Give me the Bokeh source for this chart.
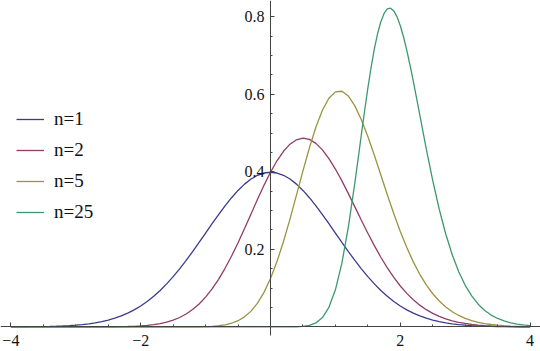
from bokeh.plotting import figure
from bokeh.models import LinearAxis, FixedTicker, Legend, LegendItem, Range1d
from bokeh.embed import file_html
from bokeh.resources import INLINE

# ---- data ----
XS = [-4.0, -3.9, -3.8, -3.7, -3.6, -3.5, -3.4, -3.3, -3.2, -3.1,
      -3.0, -2.9, -2.8, -2.7, -2.6, -2.5, -2.4, -2.3, -2.2, -2.1,
      -2.0, -1.9, -1.8, -1.7, -1.6, -1.5, -1.4, -1.3, -1.2, -1.1,
      -1.0, -0.9, -0.8, -0.7, -0.6, -0.5, -0.4, -0.3, -0.2, -0.1,
      0.0, 0.1, 0.2, 0.3, 0.4, 0.5, 0.6, 0.7, 0.8, 0.9,
      1.0, 1.1, 1.2, 1.3, 1.4, 1.5, 1.6, 1.7, 1.8, 1.9,
      2.0, 2.1, 2.2, 2.3, 2.4, 2.5, 2.6, 2.7, 2.8, 2.9,
      3.0, 3.1, 3.2, 3.3, 3.4, 3.5, 3.6, 3.7, 3.8, 3.9, 4.0]

N1 = [0.000134, 0.000199, 0.000292, 0.000425, 0.000612, 0.000873, 0.00123, 0.00172, 0.00238, 0.00327,
      0.00443, 0.00595, 0.00792, 0.01042, 0.01358, 0.01753, 0.02239, 0.02833, 0.03547, 0.04398,
      0.05399, 0.06562, 0.07895, 0.09405, 0.11092, 0.12952, 0.14973, 0.17137, 0.19419, 0.21785,
      0.24197, 0.26609, 0.28969, 0.31225, 0.33322, 0.35207, 0.36827, 0.38139, 0.39104, 0.39695,
      0.39894, 0.39695, 0.39104, 0.38139, 0.36827, 0.35207, 0.33322, 0.31225, 0.28969, 0.26609,
      0.24197, 0.21785, 0.19419, 0.17137, 0.14973, 0.12952, 0.11092, 0.09405, 0.07895, 0.06562,
      0.05399, 0.04398, 0.03547, 0.02833, 0.02239, 0.01753, 0.01358, 0.01042, 0.00792, 0.00595,
      0.00443, 0.00327, 0.00238, 0.00172, 0.00123, 0.000873, 0.000612, 0.000425, 0.000292, 0.000199, 0.000134]

N2 = [0.0, 0.0, 0.0, 0.0000001, 0.0000002, 0.0000004, 0.0000008, 0.0000017, 0.0000033, 0.0000063,
      0.000012, 0.000022, 0.000041, 0.000072, 0.000127, 0.000218, 0.000367, 0.000607, 0.000986, 0.001571,
      0.002457, 0.003769, 0.005673, 0.008384, 0.012157, 0.017307, 0.024184, 0.033177, 0.044691, 0.059111,
      0.076782, 0.097953, 0.122748, 0.151105, 0.182769, 0.217255, 0.253798, 0.291451, 0.329052, 0.365330,
      0.398942, 0.428570, 0.453028, 0.471329, 0.482742, 0.486885, 0.483669, 0.473399, 0.456632, 0.434227,
      0.407158, 0.376589, 0.343688, 0.309565, 0.275276, 0.241734, 0.209683, 0.179716, 0.152227, 0.127471,
      0.105524, 0.086389, 0.069954, 0.056053, 0.044413, 0.034842, 0.027033, 0.020768, 0.015799, 0.011878,
      0.008848, 0.006534, 0.004757, 0.003438, 0.002459, 0.001746, 0.001224, 0.000850, 0.000584, 0.000398, 0.000268]

N5 = [0.0, 0.0, 0.0, 0.0, 0.0, 0.0, 0.0, 0.0, 0.0, 0.0,
      0.0, 0.0, 0.0, 0.0, 0.0, 0.0, 0.0, 0.0, 0.0, 0.0,
      0.0, 0.0, 0.0, 0.0000019, 0.000005, 0.0000129, 0.0000318, 0.0000752, 0.000170, 0.000369,
      0.000767, 0.001527, 0.002918, 0.005351, 0.009425, 0.015953, 0.025960, 0.040645, 0.061270, 0.088999,
      0.124669, 0.168551, 0.220132, 0.277998, 0.339794, 0.402413, 0.462224, 0.515515, 0.558879, 0.589692,
      0.606203, 0.607918, 0.595433, 0.570218, 0.534557, 0.491119, 0.442665, 0.391850, 0.340999, 0.292001,
      0.246210, 0.204606, 0.167693, 0.135673, 0.108323, 0.085493, 0.066643, 0.051381, 0.039196, 0.029528,
      0.022031, 0.016287, 0.011867, 0.008583, 0.006142, 0.004361, 0.003058, 0.002124, 0.001459, 0.000995, 0.000670]

X25 = [-4.0, -2.0, 0.0, 0.1, 0.2, 0.3, 0.4, 0.5, 0.6, 0.7, 0.8, 0.9, 1.0, 1.1, 1.2, 1.3,
       1.35, 1.4, 1.45, 1.5, 1.55, 1.6, 1.65, 1.7, 1.75, 1.8, 1.85, 1.9, 1.95, 2.0,
       2.05, 2.1, 2.15, 2.2, 2.25, 2.3, 2.4, 2.5, 2.6, 2.7, 2.8, 2.9, 3.0,
       3.1, 3.2, 3.3, 3.4, 3.5, 3.6, 3.7, 3.8, 3.9, 4.0]
N25 = [0.0, 0.0, 0.0, 0.000004, 0.00002, 0.000092, 0.000364, 0.00126, 0.003795, 0.010116,
       0.023897, 0.050437, 0.095721, 0.16459, 0.25821, 0.37213,
       0.43363, 0.49606, 0.55751, 0.61596, 0.66975, 0.71699, 0.75654, 0.78720, 0.80855, 0.82016,
       0.82221, 0.81516, 0.79982, 0.77694, 0.74779, 0.71345, 0.67499, 0.63373, 0.59073, 0.54683,
       0.45939, 0.37739, 0.30349, 0.23965, 0.18619, 0.14221, 0.10722,
       0.07987, 0.05853, 0.04250, 0.03050, 0.02170, 0.01524, 0.01060, 0.00729, 0.00497, 0.00335]

SERIES = [("n=1", XS, N1), ("n=2", XS, N2), ("n=5", XS, N5), ("n=25", X25, N25)]
COLORS = ["#3c3a8e", "#8f3d68", "#9a9440", "#3d9870"]

X_TICKS = [-4, -2, 2, 4]
X_LABELS = {-4: "\u22124", -2: "\u22122", 2: "2", 4: "4"}
X_MINOR = [-3.5, -3, -2.5, -1.5, -1, -0.5, 0.5, 1, 1.5, 2.5, 3, 3.5]
Y_TICKS = [0.2, 0.4, 0.6, 0.8]
Y_LABELS = {0.2: "0.2", 0.4: "0.4", 0.6: "0.6", 0.8: "0.8"}
Y_MINOR = [0.05, 0.1, 0.15, 0.25, 0.3, 0.35, 0.45, 0.5, 0.55, 0.65, 0.7, 0.75]

# ---- figure ----
p = figure(width=540, height=351, output_backend="svg", toolbar_location=None,
           x_range=Range1d(-4.16, 4.16), y_range=Range1d(-0.0635, 0.842),
           x_axis_type=None, y_axis_type=None, min_border=0)
p.outline_line_color = None
p.background_fill_color = "white"
p.border_fill_color = "white"

AXIS_COLOR = "#444444"
LABEL_FONT = "Liberation Serif"

xaxis = LinearAxis(fixed_location=0, ticker=FixedTicker(ticks=X_TICKS, minor_ticks=X_MINOR),
                   major_label_overrides=X_LABELS,
                   axis_line_color=AXIS_COLOR, axis_line_width=1,
                   major_tick_line_color=AXIS_COLOR, minor_tick_line_color=AXIS_COLOR,
                   major_tick_in=4, major_tick_out=0, minor_tick_in=2, minor_tick_out=0,
                   major_label_standoff=8, major_label_text_font=LABEL_FONT,
                   major_label_text_font_size="16px", major_label_text_color="#111111")
yaxis = LinearAxis(fixed_location=0, ticker=FixedTicker(ticks=Y_TICKS, minor_ticks=Y_MINOR),
                   major_label_overrides=Y_LABELS, bounds=(-0.021, 0.842),
                   axis_line_color=AXIS_COLOR, axis_line_width=1,
                   major_tick_line_color=AXIS_COLOR, minor_tick_line_color=AXIS_COLOR,
                   major_tick_in=4, major_tick_out=0, minor_tick_in=2, minor_tick_out=0,
                   major_label_standoff=6, major_label_text_font=LABEL_FONT,
                   major_label_text_font_size="16px", major_label_text_color="#111111")
p.add_layout(xaxis, "below")
p.add_layout(yaxis, "left")

items = []
for (name, xs, ys), c in zip(SERIES, COLORS):
    r = p.line(xs, ys, line_color=c, line_width=1.3)
    items.append(LegendItem(label=name, renderers=[r]))

legend = Legend(items=items, location=(16, 128), orientation="vertical",
                border_line_color=None, background_fill_alpha=0, padding=0, margin=0,
                spacing=9, glyph_width=28, glyph_height=22, label_height=22,
                label_standoff=10, label_text_font=LABEL_FONT, label_text_font_size="19px",
                label_text_color="#111111")
p.add_layout(legend, "center")

open("out.html", "w").write(file_html(p, INLINE))
